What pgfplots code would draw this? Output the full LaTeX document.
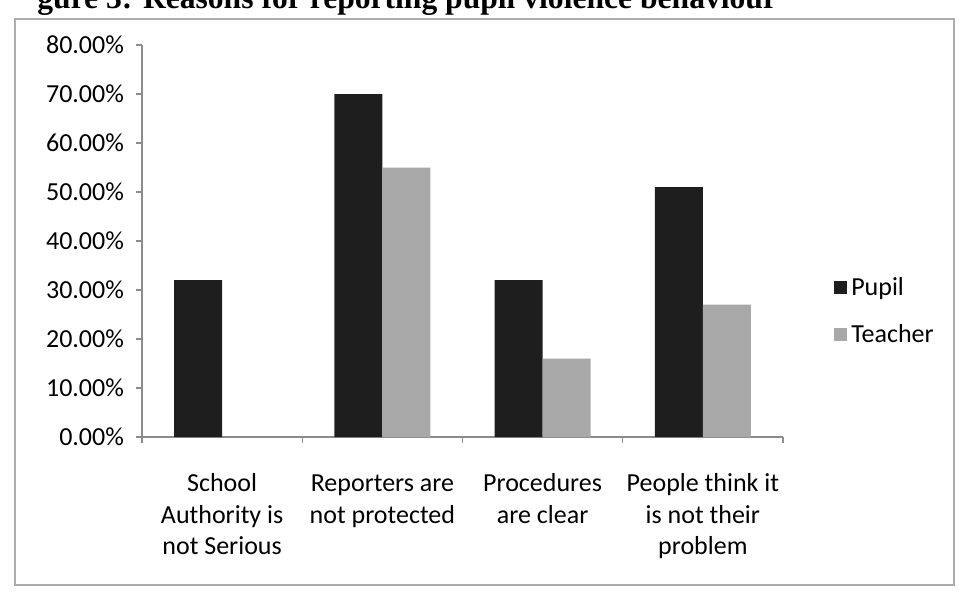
\documentclass[border=0pt]{standalone}
\usepackage{pgfplots}
\pgfplotsset{compat=1.18}
\usepackage{fontspec}
\setmainfont{Carlito}
\newfontfamily\titlefont{Liberation Serif}
\definecolor{pupil}{HTML}{1E1E1E}
\definecolor{teacher}{HTML}{A8A8A8}
\definecolor{axisgray}{HTML}{8C8C8C}
\begin{document}
\begin{tikzpicture}[x=1pt,y=1pt]
\useasboundingbox (0,0) rectangle (479.5,298);
\draw[gray!65, line width=0.6pt] (7.5,5.5) rectangle (477,288.5);
\node[anchor=base west, inner sep=0pt, font=\titlefont\bfseries\fontsize{15.8}{18}\selectfont] at (18.5,293.5) {gure 3: Reasons for reporting pupil violence behaviour};
\begin{axis}[
  at={(71pt,79.5pt)}, anchor=south west,
  scale only axis, width=320.5pt, height=196pt,
  ymin=0, ymax=80, xmin=0.5, xmax=4.5,
  axis lines*=left,
  axis line style={axisgray, line width=0.6pt},
  ybar=0pt, bar width=24pt,
  ytick={0,10,...,80},
  yticklabel={\pgfmathprintnumber[fixed,fixed zerofill,precision=2]{\tick}\%},
  /pgf/number format/assume math mode=true,
  yticklabel style={font=\fontsize{13}{15.9}\selectfont, xshift=-2.5pt},
  tick align=outside, major tick length=3pt,
  tick style={axisgray, line width=0.6pt},
  xtick={0.5,1.5,2.5,3.5,4.5}, xticklabels={},
  extra x ticks={1,2,3,4},
  extra x tick labels={\strut School\\Authority is\\not Serious, \strut Reporters are\\not protected, \strut Procedures\\are clear, \strut People think it\\is not their\\problem},
  extra x tick style={major tick length=0pt, tick style={draw=none},
     xticklabel style={align=center, font=\fontsize{13}{15.9}\selectfont, yshift=-12.5pt}},
  legend style={at={(1.07,0.32)}, anchor=west, draw=none, fill=none,
     font=\fontsize{13}{15.9}\selectfont, row sep=9pt},
  legend cell align=left,
]
\addplot[fill=pupil, draw=none,
  legend image code/.code={\fill[pupil] (0pt,-3pt) rectangle (6.5pt,3.5pt);}]
  coordinates {(1,32) (2,70) (3,32) (4,51)};
\addlegendentry{Pupil}
\addplot[fill=teacher, draw=none,
  legend image code/.code={\fill[teacher] (0pt,-3pt) rectangle (6.5pt,3.5pt);}]
  coordinates {(2,55) (3,16) (4,27)};
\addlegendentry{Teacher}
\end{axis}
\end{tikzpicture}
\end{document}
